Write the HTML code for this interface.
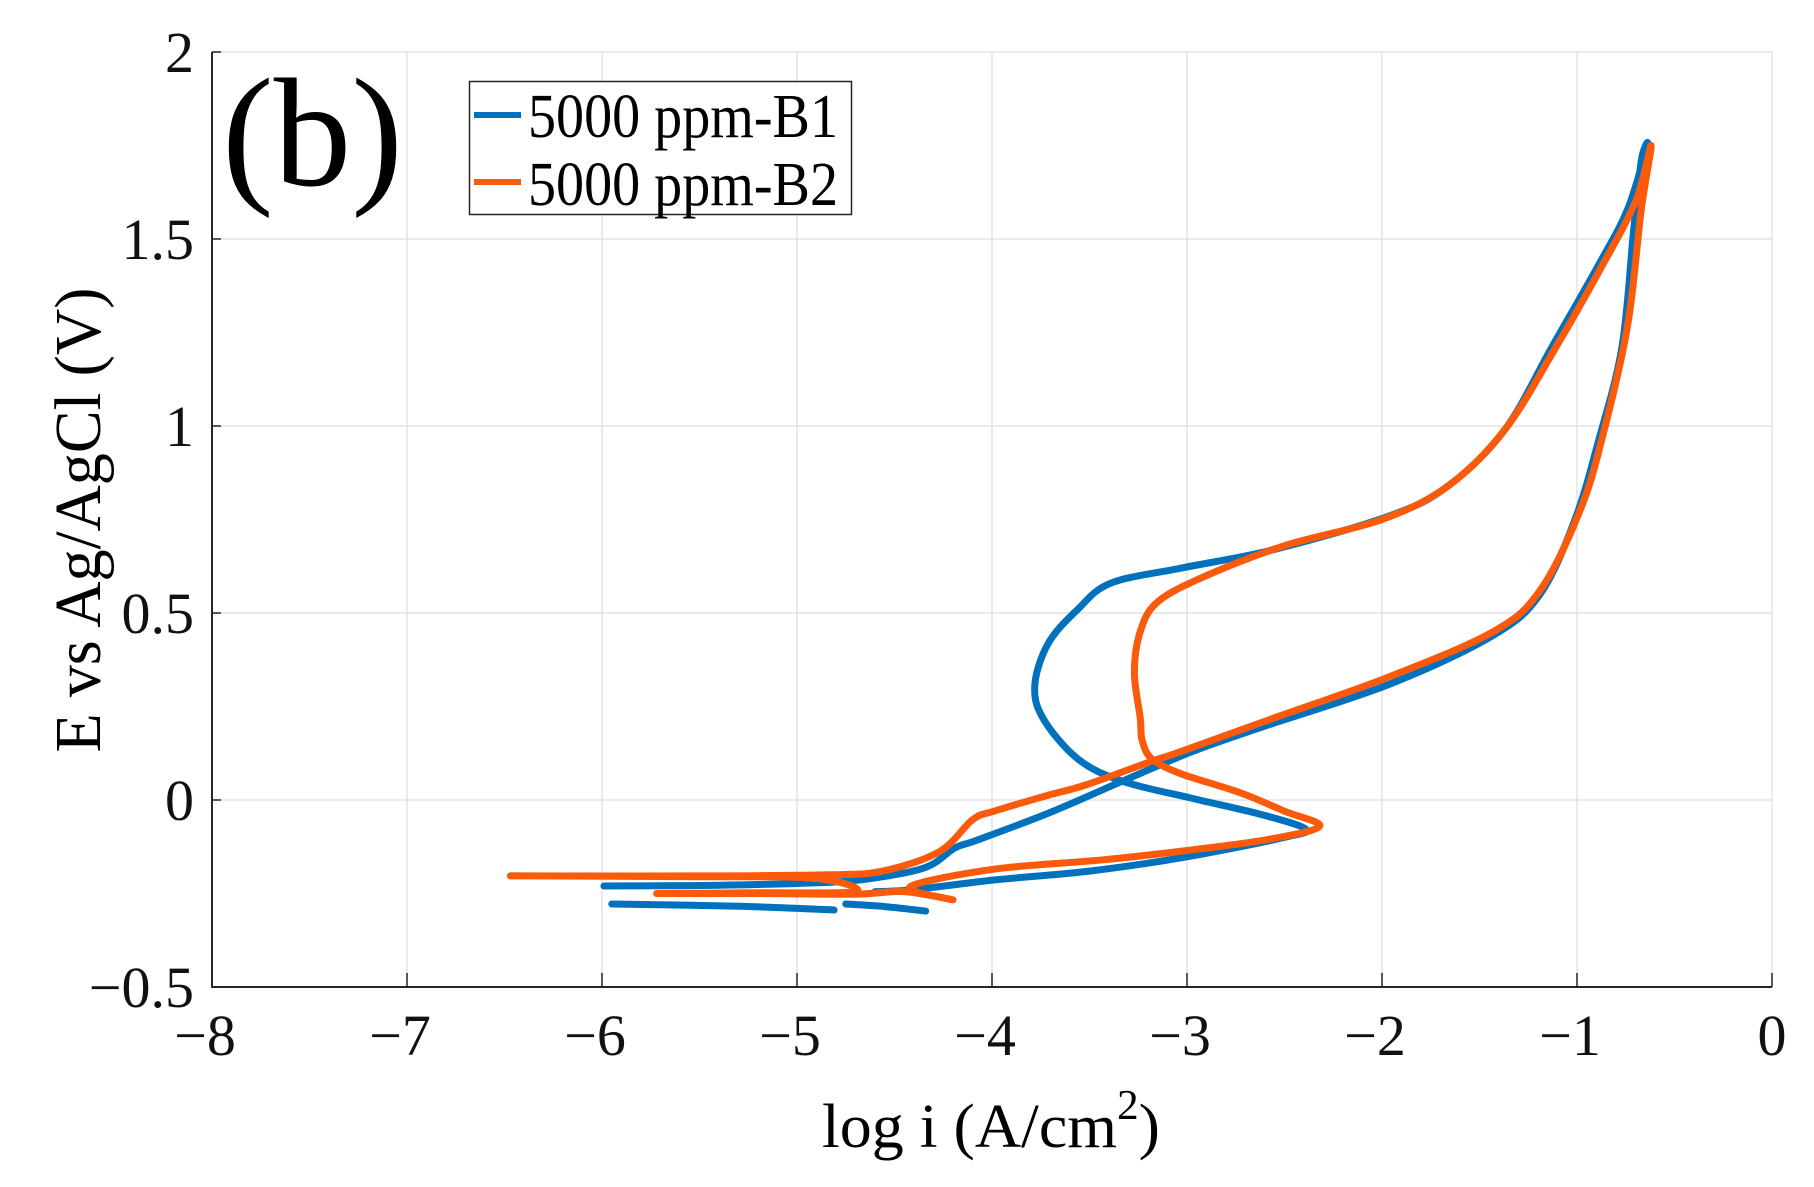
<!DOCTYPE html>
<html><head><meta charset="utf-8"><style>
html,body{margin:0;padding:0;background:#fff;}
svg{display:block;font-family:"Liberation Serif",serif;}
</style></head><body>
<svg id="chart" width="1814" height="1187" viewBox="0 0 1814 1187" xmlns="http://www.w3.org/2000/svg">
<rect width="1814" height="1187" fill="#fff"/>
<g id="grid"></g>
<g id="axes"></g>
<g id="series"></g>
<text x="222" y="185" font-size="155" textLength="181" lengthAdjust="spacingAndGlyphs">(b)</text>
<g>
<rect x="469.5" y="81.5" width="382" height="133" fill="#fff" stroke="#262626" stroke-width="1.5"/>
<line x1="474" y1="115" x2="521" y2="115" stroke="#0072BD" stroke-width="6"/>
<text x="528" y="137" font-size="62" textLength="310" lengthAdjust="spacingAndGlyphs">5000 ppm-B1</text>
<line x1="474" y1="182" x2="521" y2="182" stroke="#FA5A0A" stroke-width="6"/>
<text x="528" y="205" font-size="62" textLength="310" lengthAdjust="spacingAndGlyphs">5000 ppm-B2</text>
</g>
<text x="991" y="1147" font-size="62" text-anchor="middle" textLength="338" lengthAdjust="spacingAndGlyphs">log i (A/cm<tspan font-size="42" dy="-28">2</tspan><tspan dy="28">)</tspan></text>
<text transform="translate(100,520) rotate(-90)" font-size="66" text-anchor="middle" textLength="465" lengthAdjust="spacingAndGlyphs">E vs Ag/AgCl (V)</text>
</svg>
<script>
const xTicks=[-8,-7,-6,-5,-4,-3,-2,-1,0];
const yTicks=[-0.5,0,0.5,1,1.5,2];
const xTickLabels=["\u22128","\u22127","\u22126","\u22125","\u22124","\u22123","\u22122","\u22121","0"];
const yTickLabels=["\u22120.5","0","0.5","1","1.5","2"];
const b1LogI=[-5.99,-5.4,-4.83,-4.56,-4.33,-4.19,-4.08,-3.71,-3.32,-2.97,-2.61,-1.96,-1.43,-1.19,-1.01,-0.89,-0.77,-0.71,-0.67,-0.64,-0.74,-0.89,-1.13,-1.37,-1.66,-1.96,-2.55,-3.03,-3.39,-3.56,-3.71,-3.78,-3.74,-3.56,-3.33,-2.97,-2.61,-2.39,-2.5,-3.0,-3.5,-3.99,-4.41,-4.6];
const b1E=[-0.23,-0.228,-0.22,-0.205,-0.178,-0.128,-0.108,-0.035,0.053,0.13,0.196,0.31,0.44,0.55,0.75,0.96,1.21,1.52,1.71,1.75,1.58,1.43,1.21,0.99,0.84,0.76,0.67,0.62,0.58,0.51,0.42,0.31,0.22,0.11,0.05,0.004,-0.04,-0.078,-0.1,-0.152,-0.19,-0.214,-0.24,-0.245];
const b1TailALogI=[-5.95,-5.3,-4.81];
const b1TailAE=[-0.278,-0.284,-0.294];
const b1TailBLogI=[-4.75,-4.55,-4.34];
const b1TailBE=[-0.278,-0.285,-0.297];
const b2LogI=[-4.2,-4.45,-4.7,-5.2,-5.72,-5.2,-4.7,-4.9,-5.5,-6.47,-5.5,-4.84,-4.56,-4.27,-4.1,-3.99,-3.71,-3.52,-3.2,-3.03,-2.55,-1.96,-1.43,-1.19,-0.98,-0.86,-0.74,-0.67,-0.62,-0.7,-0.88,-1.12,-1.37,-1.66,-2.0,-2.5,-2.9,-3.15,-3.24,-3.27,-3.24,-3.23,-3.18,-3.03,-2.73,-2.5,-2.32,-2.58,-3.0,-3.43,-3.99,-4.42,-4.2];
const b2E=[-0.267,-0.245,-0.252,-0.25,-0.25,-0.248,-0.245,-0.21,-0.205,-0.203,-0.203,-0.2,-0.19,-0.138,-0.053,-0.03,0.013,0.04,0.1,0.13,0.22,0.33,0.45,0.56,0.78,0.99,1.27,1.58,1.75,1.6,1.42,1.2,0.99,0.84,0.75,0.68,0.6,0.53,0.45,0.34,0.22,0.16,0.11,0.07,0.02,-0.03,-0.07,-0.105,-0.135,-0.16,-0.185,-0.232,-0.267];

const NS="http://www.w3.org/2000/svg";
const L=212,R=1772,T=52,B=987;
function xs(d){return L+(d+8)/8*(R-L);}
function ys(v){return B-(v+0.5)/2.5*(B-T);}
function mk(tag,attrs,parent){const e=document.createElementNS(NS,tag);for(const k in attrs)e.setAttribute(k,attrs[k]);parent.appendChild(e);return e;}
const grid=document.getElementById('grid'),axes=document.getElementById('axes'),series=document.getElementById('series');
xTicks.forEach((t,i)=>{
  const g=mk('line',{x1:xs(t),x2:xs(t),y1:T,y2:B,stroke:'#e3e3e3','stroke-width':1.5},grid);
  
  
  const tk=mk('line',{x1:xs(t),x2:xs(t),y1:B,y2:B-14,stroke:'#262626','stroke-width':1.5},axes);
  
  
  const tx=mk('text',{x:xs(t)-(t<0?7:0),y:1055,'font-size':58,'text-anchor':'middle',fill:'#111'},axes);
  tx.textContent=xTickLabels[i];
  
  
});
yTicks.forEach((t,i)=>{
  const g=mk('line',{x1:L,x2:R,y1:ys(t),y2:ys(t),stroke:'#e3e3e3','stroke-width':1.5},grid);
  
  
  const tk=mk('line',{x1:L,x2:L+9,y1:ys(t),y2:ys(t),stroke:'#262626','stroke-width':1.5},axes);
  
  
  const tx=mk('text',{x:194,y:ys(t)+20,'font-size':58,'text-anchor':'end',fill:'#111'},axes);
  tx.textContent=yTickLabels[i];
  
  
});
const ax=mk('path',{d:`M${L},${T} V${B} H${R}`,fill:'none',stroke:'#262626','stroke-width':2},axes);


function line(xv,yv,color,name){
  const P=xv.map((x,i)=>[xs(x),ys(yv[i])]);
  let d='M'+P[0][0].toFixed(1)+','+P[0][1].toFixed(1);
  for(let i=0;i<P.length-1;i++){
    const p0=P[Math.max(i-1,0)],p1=P[i],p2=P[i+1],p3=P[Math.min(i+2,P.length-1)];
    const c1=[p1[0]+(p2[0]-p0[0])/6,p1[1]+(p2[1]-p0[1])/6];
    const c2=[p2[0]-(p3[0]-p1[0])/6,p2[1]-(p3[1]-p1[1])/6];
    d+=' C'+c1[0].toFixed(1)+','+c1[1].toFixed(1)+' '+c2[0].toFixed(1)+','+c2[1].toFixed(1)+' '+p2[0].toFixed(1)+','+p2[1].toFixed(1);
  }
  const p=mk('path',{d:d,fill:'none',stroke:color,'stroke-width':7,'stroke-linejoin':'round','stroke-linecap':'round'},series);
  
  
}
line(b1TailALogI,b1TailAE,'#0072BD','series-b1-tail-a');
line(b1TailBLogI,b1TailBE,'#0072BD','series-b1-tail-b');
line(b1LogI,b1E,'#0072BD','series-b1');
line(b2LogI,b2E,'#FA5A0A','series-b2');
</script>
</body></html>
